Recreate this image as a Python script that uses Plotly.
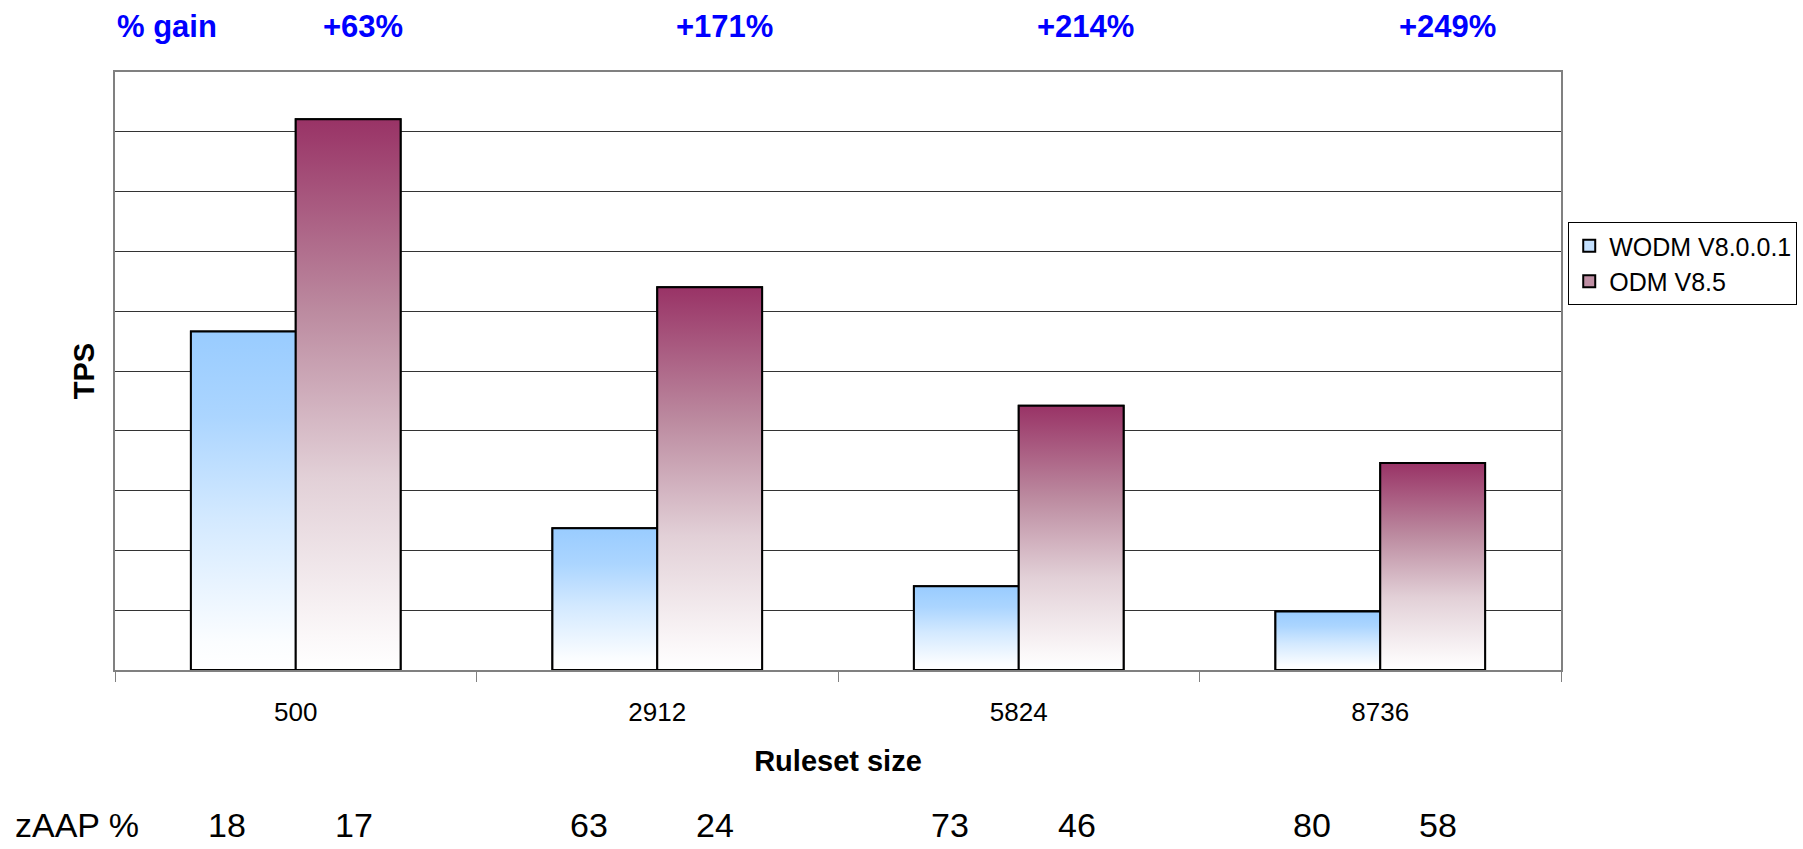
import plotly.graph_objects as go

# ---- data ----
categories = ["500", "2912", "5824", "8736"]
series_names = ["WODM V8.0.0.1", "ODM V8.5"]
wodm_tps = [5.66, 2.37, 1.40, 0.98]
odm_tps = [9.21, 6.40, 4.42, 3.46]
gain_labels = ["+63%", "+171%", "+214%", "+249%"]
zaap_wodm = [18, 63, 73, 80]
zaap_odm = [17, 24, 46, 58]

FONT = "Liberation Sans, Arial, Helvetica, sans-serif"
BAR_W = 0.29
x_idx = list(range(len(categories)))

blue_scale = [[0, "#FFFFFF"], [0.08, "#FBFDFF"], [0.45, "#D3E9FF"],
              [0.75, "#ABD5FF"], [1, "#99CCFF"]]
red_scale = [[0, "#FFFFFF"], [0.06, "#FBF8F9"], [0.35, "#E2D0D7"],
             [0.65, "#BC8BA0"], [1, "#993366"]]

series = [
    (series_names[0], wodm_tps, -BAR_W, "#C4E1FF", blue_scale),
    (series_names[1], odm_tps, 0.0, "#BF8FA4", red_scale),
]

fig = go.Figure()
for name, vals, offset, mid, scale in series:
    fig.add_trace(go.Bar(
        x=x_idx, y=vals, width=BAR_W, offset=offset, name=name,
        marker=dict(color=mid, line=dict(color="black", width=2)),
    ))
for name, vals, offset, mid, scale in series:
    for i, v in zip(x_idx, vals):
        x0 = i + offset
        x1 = x0 + BAR_W
        fig.add_trace(go.Scatter(
            x=[x0, x1, x1, x0, x0], y=[0, 0, v, v, 0],
            mode="lines", fill="toself",
            fillgradient=dict(type="vertical", colorscale=scale, start=0, stop=v),
            line=dict(color="black", width=2),
            showlegend=False, hoverinfo="skip",
        ))

annotations = []
gain_font = dict(family=FONT, size=31, color="#0000FF", weight="bold")
annotations.append(dict(
    text="% gain", x=0, xref="paper", xanchor="left", y=1.076, yref="paper",
    yanchor="middle", showarrow=False, font=gain_font))
for i, g in zip(x_idx, gain_labels):
    annotations.append(dict(
        text=g, x=i + 0.185, xref="x", xanchor="center", y=1.076, yref="paper",
        yanchor="middle", showarrow=False, font=gain_font))

zaap_font = dict(family=FONT, size=34, color="black")
ZY = -0.26
annotations.append(dict(
    text="zAAP %", x=-0.0705, xref="paper", xanchor="left", y=ZY,
    yref="paper", yanchor="middle", showarrow=False, font=zaap_font))
for i, a, b in zip(x_idx, zaap_wodm, zaap_odm):
    annotations.append(dict(
        text=str(a), x=i - 0.19, xref="x", xanchor="center", y=ZY,
        yref="paper", yanchor="middle", showarrow=False, font=zaap_font))
    annotations.append(dict(
        text=str(b), x=i + 0.16, xref="x", xanchor="center", y=ZY,
        yref="paper", yanchor="middle", showarrow=False, font=zaap_font))

fig.update_layout(
    width=1803, height=849,
    margin=dict(l=115, r=242, t=72, b=179, autoexpand=False),
    paper_bgcolor="white", plot_bgcolor="white",
    barmode="overlay",
    font=dict(family=FONT, color="black"),
    showlegend=True,
    legend=dict(
        x=1.005, xanchor="left", y=0.749, yanchor="top",
        bordercolor="black", borderwidth=1, bgcolor="white",
        font=dict(family=FONT, size=25, color="black"),
        itemwidth=30, tracegroupgap=4,
    ),
    annotations=annotations,
    xaxis=dict(
        range=[-0.5, 3.5], tickmode="array", tickvals=x_idx, ticktext=categories,
        ticks="", ticklabelstandoff=18,
        tickfont=dict(family=FONT, size=26, color="black"),
        showline=True, linecolor="#808080", linewidth=2, mirror=True,
        showgrid=False, zeroline=False,
        minor=dict(tickmode="array", tickvals=[-0.5, 0.5, 1.5, 2.5, 3.5],
                   ticks="outside", ticklen=10, tickcolor="#808080", tickwidth=1),
        title=dict(text="Ruleset size", standoff=24,
                   font=dict(family=FONT, size=29, color="black", weight="bold")),
    ),
    yaxis=dict(
        range=[0, 10], tick0=0, dtick=1, showticklabels=False, ticks="",
        showgrid=True, gridcolor="#333333", gridwidth=1,
        showline=True, linecolor="#808080", linewidth=2, mirror=True,
        zeroline=False,
        title=dict(text="TPS", standoff=10,
                   font=dict(family=FONT, size=29, color="black", weight="bold")),
    ),
)

fig.write_html("out.html")
